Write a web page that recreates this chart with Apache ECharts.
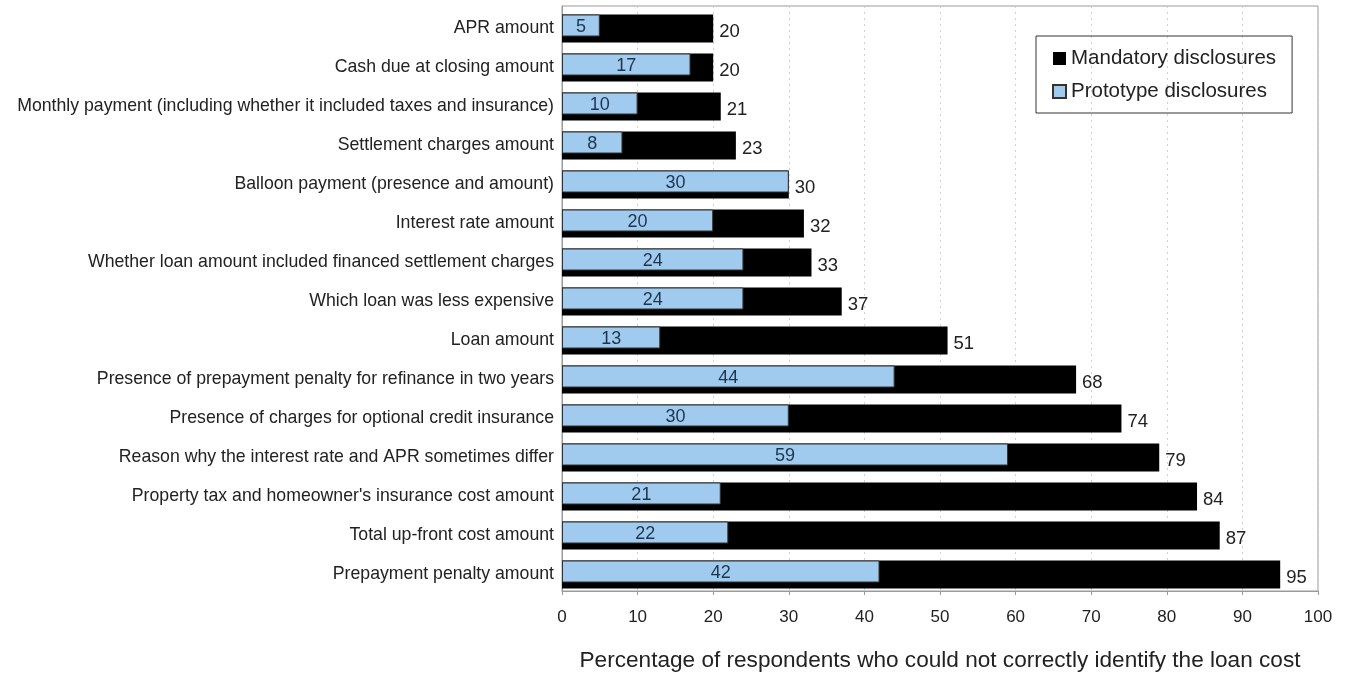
<!DOCTYPE html>
<html>
<head>
<meta charset="utf-8">
<script src="https://cdn.jsdelivr.net/npm/echarts@6/dist/echarts.min.js"></script>
<style>
  html, body { margin: 0; padding: 0; background: #fff; }
  #chart { width: 1354px; height: 675px; }
</style>
</head>
<body>
<div id="chart"></div>
<script>
// Loan cost items, listed top to bottom
const categories = [
  "APR amount",
  "Cash due at closing amount",
  "Monthly payment (including whether it included taxes and insurance)",
  "Settlement charges amount",
  "Balloon payment (presence and amount)",
  "Interest rate amount",
  "Whether loan amount included financed settlement charges",
  "Which loan was less expensive",
  "Loan amount",
  "Presence of prepayment penalty for refinance in two years",
  "Presence of charges for optional credit insurance",
  "Reason why the interest rate and APR sometimes differ",
  "Property tax and homeowner's insurance cost amount",
  "Total up-front cost amount",
  "Prepayment penalty amount"
];

// Percent of respondents who could not identify each cost
const mandatoryValues = [20, 20, 21, 23, 30, 32, 33, 37, 51, 68, 74, 79, 84, 87, 95];
const prototypeValues = [5, 17, 10, 8, 30, 20, 24, 24, 13, 44, 30, 59, 21, 22, 42];

const seriesNames = ["Mandatory disclosures", "Prototype disclosures"];
const axisTitle = "Percentage of respondents who could not correctly identify the loan cost";

const FONT = "'Liberation Sans', Arial, Helvetica, sans-serif";

const chart = echarts.init(document.getElementById('chart'), null, { renderer: 'canvas' });

chart.setOption({
  animation: false,
  textStyle: { fontFamily: FONT },
  grid: {
    left: 562, right: 36, top: 6, height: 585,
    outerBoundsMode: 'none',
    containLabel: false,
    show: true, borderColor: '#9a9a9a', borderWidth: 1, backgroundColor: 'transparent'
  },
  legend: {
    orient: 'vertical',
    left: 1036, top: 36,
    padding: [12, 16, 11, 16],
    borderColor: '#333', borderWidth: 1,
    itemGap: 12,
    itemWidth: 13, itemHeight: 13,
    icon: 'rect',
    textStyle: { fontSize: 20.5, color: '#222', fontFamily: FONT },
    data: seriesNames
  },
  xAxis: {
    type: 'value',
    min: 0, max: 100, interval: 10,
    name: axisTitle,
    nameLocation: 'middle',
    nameGap: 58,
    nameTextStyle: { fontSize: 22.6, color: '#222', fontFamily: FONT },
    axisLine: { show: true, lineStyle: { color: '#9a9a9a' } },
    axisTick: { show: true, length: 4, lineStyle: { color: '#9a9a9a' } },
    axisLabel: { fontSize: 17, color: '#222', margin: 18, fontFamily: FONT },
    splitLine: { show: true, lineStyle: { color: '#d0d0d0', type: [2, 4] } }
  },
  yAxis: {
    type: 'category',
    inverse: true,
    data: categories,
    axisLine: { show: true, lineStyle: { color: '#9a9a9a' } },
    axisTick: { show: false },
    axisLabel: {
      margin: 8,
      formatter: (v) => '{t|' + v + '}',
      rich: {
        t: { fontSize: 17.7, color: '#222', fontFamily: FONT, padding: [5, 0, 0, 0] }
      }
    }
  },
  series: [
    {
      name: seriesNames[0],
      type: 'bar',
      data: mandatoryValues,
      barWidth: 28,
      barGap: '-100%',
      itemStyle: { color: '#000' },
      label: {
        show: true, position: 'right', distance: 6, offset: [0, 3],
        fontSize: 18.5, color: '#222', fontFamily: FONT
      },
      z: 2
    },
    {
      name: seriesNames[1],
      type: 'bar',
      data: prototypeValues,
      barWidth: 22,
      itemStyle: { color: '#a0cbee', borderColor: '#333', borderWidth: 1 },
      label: {
        show: true, position: 'inside', offset: [0, 2],
        fontSize: 18, color: '#1e3550', fontFamily: FONT
      },
      z: 3
    }
  ]
});
</script>
</body>
</html>
